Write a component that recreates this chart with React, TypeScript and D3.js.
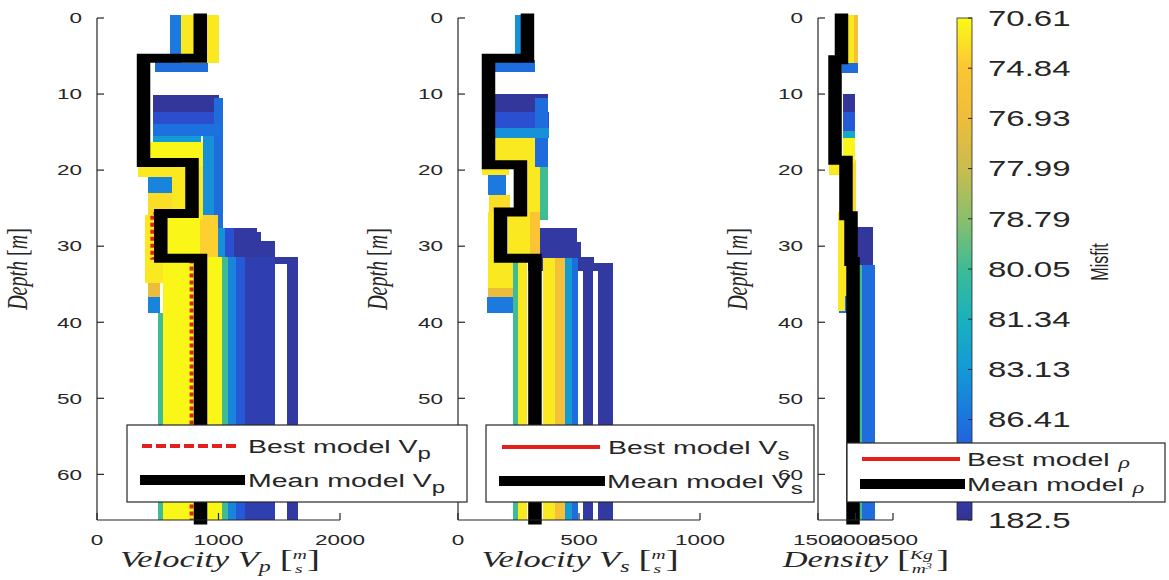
import React from 'react';
import * as d3 from 'd3';

// the exported figure is stretched sideways, so text and line widths are too
const SX = 1.5;
const SANS = "'Liberation Sans', Arial, Helvetica, sans-serif";
const SERIF = "'Liberation Serif', 'Times New Roman', serif";
const INK = '#262626';

const depthTicks = [0, 10, 20, 30, 40, 50, 60];
const vpTicks = [0, 1000, 2000];
const vsTicks = [0, 500, 1000];
const rhoTicks = [1500, 2000, 2500];
// the 10th label sits behind the density legend
const misfitTicks = [70.61, 74.84, 76.93, 77.99, 78.79, 80.05, 81.34, 83.13, 86.41, 94.07, 182.5];
const hiddenMisfitTick = 94.07;

// parula-like map, dark blue -> yellow
const parula = ['#35318f', '#2a4fd2', '#1c74e0', '#129ad6', '#19b1bd', '#3dbb96', '#8abf6c', '#c9bc4e', '#eebd3a', '#fcc535', '#f9fb15'];

// layer boundaries (m) of the mean and best models
const vpLayers = [0, 5.3, 19.0, 25.7, 31.6, 66];
const vpMean = [850, 383, 782, 525, 852];
const vpBest = [845, 383, 782, 455, 778];

const vsLayers = [0, 5.3, 19.3, 25.5, 31.6, 66];
const vsMean = [287, 126, 258, 176, 318];
const vsBest = [287, 126, 258, 176, 316];

const rhoLayers = [0, 5.5, 18.7, 26.0, 32.0, 66];
const rhoMean = [1813, 1727, 1873, 1940, 1967];
const rhoBest = [1810, 1727, 1873, 1938, 1965];

// inverted models seen as misfit-coloured stripes: [top (m), bottom (m), from, to, misfit]
const vpModels = [
  [-0.4, 5.0, 600, 690, 86],
  [-0.4, 5.9, 690, 1000, 72],
  [5.5, 7.1, 477, 913, 88],
  [10.1, 12.3, 460, 1000, 165],
  [12.3, 14.0, 460, 1010, 100],
  [14.0, 15.5, 460, 1020, 87],
  [15.5, 16.3, 460, 860, 83],
  [10.5, 26.6, 960, 1040, 88],
  [15.5, 26.6, 870, 960, 84],
  [16.3, 19.6, 440, 870, 71],
  [19.3, 20.9, 340, 760, 72],
  [20.9, 23.0, 420, 620, 85],
  [23.0, 25.9, 420, 620, 73],
  [20.9, 25.9, 620, 770, 72],
  [19.6, 26.6, 823, 870, 72],
  [26.6, 28.0, 740, 1040, 88],
  [27.6, 66, 1000, 1320, 160],
  [28.2, 66, 1320, 1350, 160],
  [29.3, 66, 1350, 1465, 160],
  [31.4, 32.4, 1465, 1654, 160],
  [31.4, 66, 1564, 1654, 160],
  [27.6, 31.4, 996, 1050, 84],
  [27.6, 31.4, 1050, 1130, 95],
  [25.9, 34.9, 395, 540, 72],
  [34.9, 36.7, 420, 518, 77],
  [36.7, 38.8, 420, 518, 85],
  [38.8, 66, 500, 540, 80],
  [25.9, 31.4, 580, 848, 71],
  [25.9, 31.4, 848, 996, 74],
  [31.4, 66, 540, 1029, 71],
  [31.4, 66, 1029, 1075, 80],
  [31.4, 66, 1075, 1140, 85],
  [31.4, 66, 1140, 1220, 92],
  [31.4, 66, 1220, 1465, 140],
];

const vsModels = [
  [-0.4, 5.0, 235, 270, 84],
  [5.5, 7.1, 150, 320, 88],
  [10.0, 12.3, 150, 370, 165],
  [12.3, 14.5, 150, 375, 95],
  [14.5, 15.8, 150, 375, 84],
  [15.8, 19.6, 140, 320, 72],
  [10.5, 19.6, 320, 372, 88],
  [19.3, 20.6, 100, 210, 72],
  [20.6, 23.3, 125, 200, 86],
  [23.3, 25.5, 130, 215, 73],
  [19.6, 25.5, 270, 340, 72],
  [19.6, 26.6, 340, 370, 80],
  [25.5, 31.6, 125, 150, 72],
  [25.5, 31.6, 207, 298, 72],
  [25.5, 31.6, 298, 340, 75],
  [27.6, 29.5, 290, 490, 160],
  [29.5, 31.4, 290, 510, 160],
  [31.4, 32.2, 290, 560, 160],
  [32.2, 33.2, 290, 640, 160],
  [31.4, 66, 517, 558, 160],
  [32.2, 66, 578, 640, 160],
  [31.6, 66, 227, 248, 80],
  [31.6, 66, 248, 285, 72],
  [31.6, 66, 351, 401, 72],
  [31.6, 66, 401, 442, 76],
  [31.6, 66, 442, 470, 83],
  [31.6, 66, 470, 496, 88],
  [31.6, 35.5, 125, 227, 72],
  [35.5, 36.7, 125, 227, 77],
  [36.7, 38.8, 120, 227, 86],
];

const rhoModels = [
  [-0.4, 5.9, 1887, 1980, 72],
  [-0.4, 5.9, 1980, 2033, 76],
  [5.8, 7.2, 1820, 2033, 88],
  [10.0, 12.3, 1833, 1993, 165],
  [12.3, 14.8, 1833, 1993, 92],
  [14.8, 15.8, 1833, 1993, 82],
  [15.8, 19.0, 1833, 1993, 71],
  [19.2, 20.6, 1640, 1800, 72],
  [18.7, 26.0, 1950, 2010, 73],
  [25.5, 38.5, 1767, 1860, 72],
  [27.5, 32.5, 2020, 2233, 165],
  [32.5, 66, 2040, 2090, 80],
  [32.5, 66, 2090, 2260, 88],
  [32.0, 36.5, 1780, 1880, 72],
  [36.5, 38.8, 1780, 1880, 88],
];

const ys = d3.scaleLinear().domain([0, 66]).range([18, 520]);
const misfitPos = d3
  .scaleLinear()
  .domain(misfitTicks)
  .range(misfitTicks.map((_, i) => 1 - i / (misfitTicks.length - 1)))
  .clamp(true);
const cmap = d3.piecewise(d3.interpolateRgb, parula);
const misfitColor = (m: number) => cmap(misfitPos(m));
const cbY = d3.scaleLinear().domain([1, 0]).range([18, 520]);

function SText({ x, y, size, anchor = 'middle', rot = false, family = SANS, italic = false, dy, children }: any) {
  return (
    <text
      transform={`translate(${x},${y}) scale(${SX},1)${rot ? ' rotate(-90)' : ''}`}
      fontSize={size}
      textAnchor={anchor}
      fontFamily={family}
      fontStyle={italic ? 'italic' : 'normal'}
      fill={INK}
      dy={dy}
    >
      {children}
    </text>
  );
}

function VelLabel({ x, sub }: { x: number; sub: string }) {
  return (
    <SText x={x} y={567} size={23} family={SERIF} italic>
      Velocity V<tspan fontSize={16} dy={5}>{sub}</tspan>
      <tspan dy={-5} dx={6} fontStyle="normal" fontSize={26}>[</tspan>
      <tspan fontSize={13} dy={-8}>m</tspan>
      <tspan fontSize={13} dx={-8} dy={14}>s</tspan>
      <tspan fontStyle="normal" fontSize={26} dx={3} dy={-6}>]</tspan>
    </SText>
  );
}

const panels = [
  {
    left: 97, right: 340, domain: [0, 2000], ticks: vpTicks, models: vpModels,
    layers: vpLayers, mean: vpMean, best: vpBest, dashed: true, labelX: 27,
    xlabel: <VelLabel x={220} sub="p" />,
  },
  {
    left: 458, right: 700, domain: [0, 1000], ticks: vsTicks, models: vsModels,
    layers: vsLayers, mean: vsMean, best: vsBest, dashed: false, labelX: 387,
    xlabel: <VelLabel x={580} sub="s" />,
  },
  {
    left: 818, right: 893, domain: [1500, 2500], ticks: rhoTicks, models: rhoModels,
    layers: rhoLayers, mean: rhoMean, best: rhoBest, dashed: false, labelX: 747,
    xlabel: (
      <SText x={866} y={567} size={23} family={SERIF} italic>
        Density
        <tspan dx={6} fontStyle="normal" fontSize={26}>[</tspan>
        <tspan fontSize={13} dy={-8}>Kg</tspan>
        <tspan fontSize={13} dx={-14} dy={14}>m</tspan>
        <tspan fontSize={8} dy={-4}>3</tspan>
        <tspan fontStyle="normal" fontSize={26} dx={3} dy={-2}>]</tspan>
      </SText>
    ),
  },
];

function Panel({ p }: { p: any }) {
  const xs = d3.scaleLinear().domain(p.domain).range([p.left, p.right]);
  const line = d3
    .line<number[]>()
    .x((d) => xs(d[0]) / SX)
    .y((d) => ys(d[1]));
  const steps = (vals: number[]) => vals.flatMap((v, i) => [[v, p.layers[i]], [v, p.layers[i + 1]]]);
  const cells = [...p.models].sort((a: number[], b: number[]) => b[4] - a[4]);
  return (
    <g>
      <g shapeRendering="crispEdges">
        {cells.map((c: number[], i: number) => (
          <rect
            key={i}
            x={xs(c[2])}
            y={ys(c[0])}
            width={xs(c[3]) - xs(c[2])}
            height={ys(c[1]) - ys(c[0])}
            fill={misfitColor(c[4])}
          />
        ))}
      </g>
      <g transform={`scale(${SX},1)`}>
        <path
          d={line(steps(p.best)) || ''}
          fill="none"
          stroke="#e3201b"
          strokeWidth={2.6}
          strokeDasharray={p.dashed ? '4 3' : undefined}
        />
        <path
          d={line(steps(p.mean)) || ''}
          fill="none"
          stroke="#000"
          strokeWidth={9}
          strokeLinecap="square"
        />
      </g>
      <g stroke={INK} strokeWidth={1.2}>
        <line x1={p.left} x2={p.left} y1={ys(0)} y2={ys(66)} />
        <line x1={p.left} x2={p.right} y1={ys(66)} y2={ys(66)} />
        {depthTicks.map((t) => (
          <line key={t} x1={p.left} x2={p.left + 7} y1={ys(t)} y2={ys(t)} />
        ))}
        {p.ticks.map((t: number) => (
          <line key={t} x1={xs(t)} x2={xs(t)} y1={ys(66)} y2={ys(66) - 7} />
        ))}
      </g>
      {depthTicks.map((t) => (
        <SText key={t} x={p.left - 15} y={ys(t)} size={15} anchor="end" dy="0.35em">
          {t}
        </SText>
      ))}
      {p.ticks.map((t: number) => (
        <SText key={t} x={xs(t)} y={545} size={15}>
          {t}
        </SText>
      ))}
      <SText x={p.labelX} y={269} size={20} family={SERIF} italic rot>
        Depth <tspan fontStyle="normal">[</tspan>m<tspan fontStyle="normal">]</tspan>
      </SText>
      {p.xlabel}
    </g>
  );
}

function Legend({ box, rows, dashed, sub, greek }: any) {
  const [x0, y0, x1, y1] = box;
  const labels = ['Best model', 'Mean model'];
  return (
    <g>
      <rect x={x0} y={y0} width={x1 - x0} height={y1 - y0} fill="#fff" stroke={INK} strokeWidth={1.2} />
      {rows.map((r: number[], i: number) => (
        <g key={i}>
          <line
            x1={r[1]}
            x2={r[2]}
            y1={r[0]}
            y2={r[0]}
            stroke={i === 0 ? '#e3201b' : '#000'}
            strokeWidth={i === 0 ? 4 : 10}
            strokeDasharray={i === 0 && dashed ? '10 4' : undefined}
          />
          <SText x={r[3]} y={r[0]} size={19} anchor="start" dy="0.35em">
            {labels[i]}
            {greek ? (
              <tspan fontFamily={SERIF} fontStyle="italic" fontSize={16} dx={6} dy={2}>
                ρ
              </tspan>
            ) : (
              <>
                {' V'}
                <tspan fontSize={16} dy={6}>
                  {sub}
                </tspan>
              </>
            )}
          </SText>
        </g>
      ))}
    </g>
  );
}

function Colorbar() {
  const n = parula.length - 1;
  return (
    <g>
      <defs>
        <linearGradient id="parulaGrad" x1="0" y1="0" x2="0" y2="1">
          {parula.map((_, i) => (
            <stop key={i} offset={i / n} stopColor={parula[n - i]} />
          ))}
        </linearGradient>
      </defs>
      <rect x={957} y={cbY(1)} width={15} height={cbY(0) - cbY(1)} fill="url(#parulaGrad)" stroke={INK} strokeWidth={0.8} />
      {misfitTicks.map((t) => (
        <g key={t}>
          <line x1={968} x2={972} y1={cbY(misfitPos(t))} y2={cbY(misfitPos(t))} stroke={INK} strokeWidth={1} />
          {t !== hiddenMisfitTick && (
            <SText x={988} y={cbY(misfitPos(t))} size={22} anchor="start" dy="0.35em">
              {t}
            </SText>
          )}
        </g>
      ))}
      <SText x={1100} y={262} size={16} rot dy="0.35em">
        Misfit
      </SText>
    </g>
  );
}

export default function App() {
  return (
    <svg
      width={1169}
      height={580}
      style={{ position: 'absolute', left: 0, top: 0, background: '#fff' }}
    >
      <Panel p={panels[0]} />
      <Panel p={panels[1]} />
      <Legend box={[127, 425, 467, 502]} rows={[[446, 142, 237, 248], [480, 140, 245, 248]]} dashed sub="p" />
      <Legend box={[486, 425, 814, 502]} rows={[[447, 502, 600, 608], [481, 499, 605, 607]]} sub="s" />
      <Panel p={panels[2]} />
      <Colorbar />
      <Legend box={[847, 443, 1165, 502]} rows={[[459, 862, 960, 967], [484, 860, 965, 967]]} greek />
    </svg>
  );
}
